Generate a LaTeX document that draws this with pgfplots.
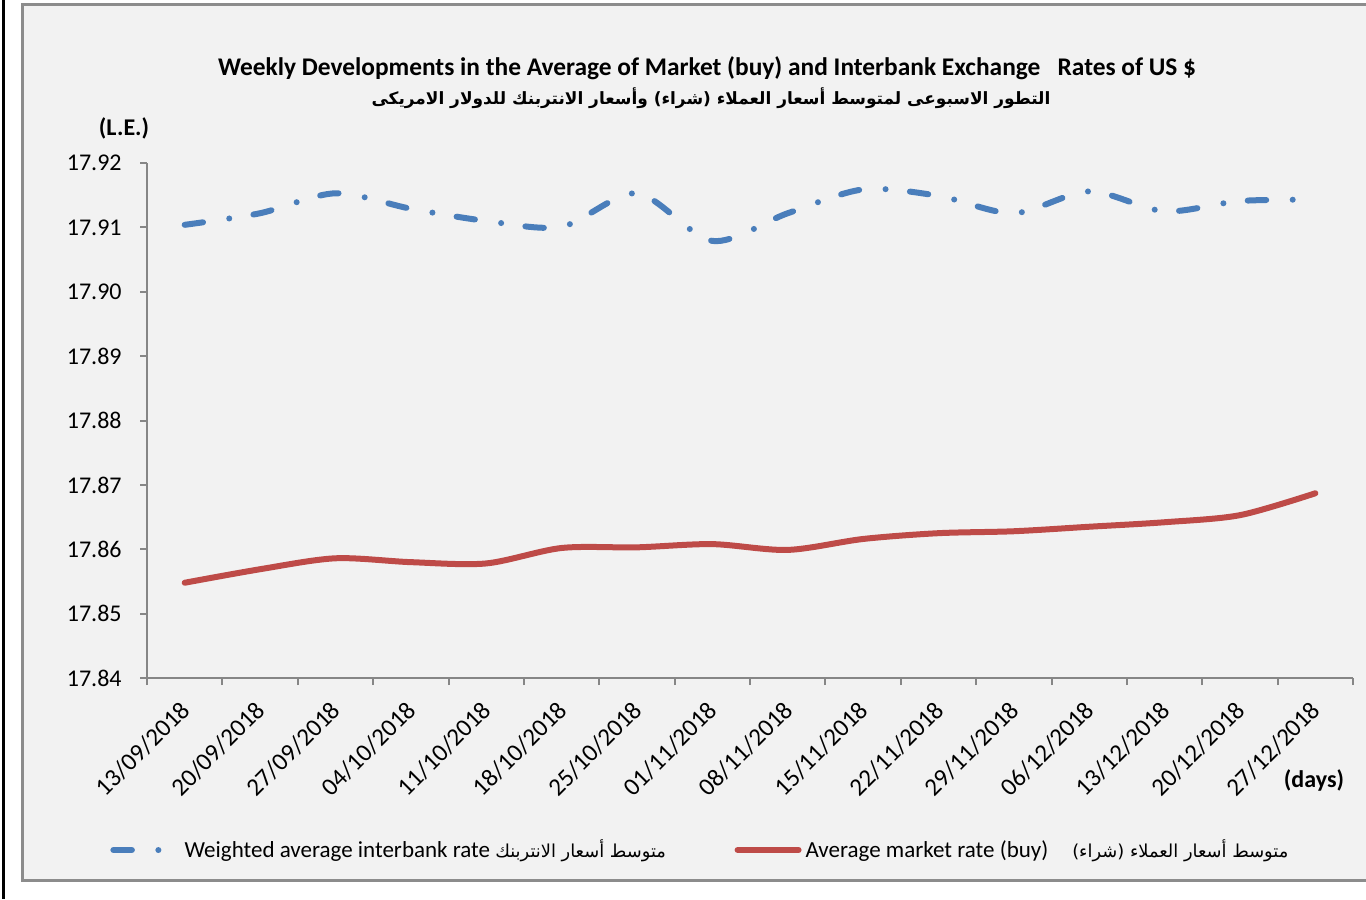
\documentclass[border=0pt]{standalone}
\usepackage{fontspec}
\setmainfont{Carlito}
\newfontfamily\arabicfont[Script=Arabic,Scale=0.85]{DejaVu Sans}
\TeXXeTstate=1
\usepackage{pgfplots}
\pgfplotsset{compat=1.18}

\definecolor{bgc}{HTML}{F2F2F2}
\definecolor{framegray}{HTML}{8C8C8C}
\definecolor{axgray}{HTML}{868686}
\definecolor{ibblue}{HTML}{4A7EBB}
\definecolor{mkred}{HTML}{BE4B48}

\tikzset{
  ibline/.style={color=ibblue, line width=3bp, line cap=round,
    dash pattern=on 9.25bp off 13.25bp on 0bp off 12.25bp},
  mkline/.style={color=mkred, line width=3bp, line cap=round},
}
\newcommand\arleg{\arabicfont\fontsize{10.5bp}{12bp}\selectfont}

\begin{document}
\begin{tikzpicture}
% page and frame, in pixel units of the reference
\begin{scope}[x=0.5bp,y=-0.5bp,shift={(-73.5bp,339bp)}]
  \path[use as bounding box] (0,0) rectangle (1366,899);
  \fill[white] (0,0) rectangle (1366,899);
  \fill[bgc] (23,5) rectangle (1366,880);
  \draw[framegray, line width=1.5bp] (1366,5) -- (23,5) -- (23,880) -- (1366,880);
  \fill[black] (2.5,0) rectangle (5.5,899);
\end{scope}

\begin{axis}[
  at={(0,0)}, anchor=south west,
  scale only axis, width=603bp, height=257.5bp,
  xmin=-0.5, xmax=15.5, ymin=17.84, ymax=17.92,
  axis x line*=bottom, axis y line*=left,
  axis line style={draw=axgray, line width=1bp},
  tick align=outside,
  tick style={draw=axgray, line width=1bp},
  major tick length=3.5bp,
  ytick={17.84,17.85,17.86,17.87,17.88,17.89,17.90,17.91,17.92},
  yticklabel style={/pgf/number format/fixed, /pgf/number format/fixed zerofill,
    /pgf/number format/precision=2, /pgf/number format/assume math mode=true,
    font=\fontsize{12bp}{14bp}\selectfont, anchor=east, inner sep=0pt, xshift=-9bp},
  xtick={-0.5,0.5,...,15.5},
  xticklabel=\empty,
  extra x ticks={0,1,...,15},
  extra x tick labels={13/09/2018,20/09/2018,27/09/2018,04/10/2018,11/10/2018,
    18/10/2018,25/10/2018,01/11/2018,08/11/2018,15/11/2018,22/11/2018,
    29/11/2018,06/12/2018,13/12/2018,20/12/2018,27/12/2018},
  extra x tick style={major tick length=0pt,
    xticklabel style={font=\fontsize{12.5bp}{14bp}\selectfont,
      xshift=0.5bp, yshift=-14bp, rotate=45,
      anchor=east, inner sep=0pt}},
  legend style={at={(-0.0307,-0.334)}, anchor=west, draw=none, fill=none,
    legend columns=2, inner sep=0pt,
    nodes={inner sep=0pt, font=\fontsize{11.5bp}{13bp}\selectfont},
    /tikz/column sep=0pt},
  clip=false,
]
\addplot[ibline, smooth, tension=0.5,
  legend image code/.code={\draw[ibline] (1.4bp,0bp) -- (24.5bp,0bp);}]
  coordinates {
  (0,17.9104) (1,17.9122) (2,17.9153) (3,17.9129) (4,17.9110) (5,17.9101)
  (6,17.9153) (7,17.9079) (8,17.9122) (9,17.9159) (10,17.9149) (11,17.9122)
  (12,17.9156) (13,17.9125) (14,17.9141) (15,17.9143)};
\addlegendentry{\makebox[286bp][l]{\hspace{11bp}Weighted average interbank rate {\arleg\beginR متوسط أسعار الانتربنك\endR}}}
\addplot[mkline, smooth, tension=0.5,
  legend image code/.code={\draw[mkline] (1.4bp,0bp) -- (31.9bp,0bp);}]
  coordinates {
  (0,17.8548) (1,17.8569) (2,17.8586) (3,17.8580) (4,17.8578) (5,17.8602)
  (6,17.8603) (7,17.8608) (8,17.8599) (9,17.8616) (10,17.8625) (11,17.8628)
  (12,17.8635) (13,17.8642) (14,17.8653) (15,17.8687)};
\addlegendentry{\hspace{2bp}Average market rate (buy)\hspace{12bp}{\arleg\beginR متوسط أسعار العملاء (شراء)\endR}}
\end{axis}

% titles and unit labels, in pixel units of the reference
\begin{scope}[x=0.5bp,y=-0.5bp,shift={(-73.5bp,339bp)}]
  \node[font=\bfseries\fontsize{12.7bp}{14bp}\selectfont, inner sep=0pt] at (707,68)
    {Weekly Developments in the Average of Market (buy) and Interbank Exchange\ \ \ Rates of US \$};
  \node[font=\arabicfont\bfseries, inner sep=0pt] at (711,98)
    {\beginR التطور الاسبوعى لمتوسط أسعار العملاء (شراء) وأسعار الانتربنك للدولار الامريكى\endR};
  \node[font=\bfseries\fontsize{12bp}{14bp}\selectfont, inner sep=0pt] at (124,128) {(L.E.)};
  \node[font=\bfseries\fontsize{12bp}{14bp}\selectfont, inner sep=0pt] at (1314,780) {(days)};
\end{scope}
\end{tikzpicture}
\end{document}
